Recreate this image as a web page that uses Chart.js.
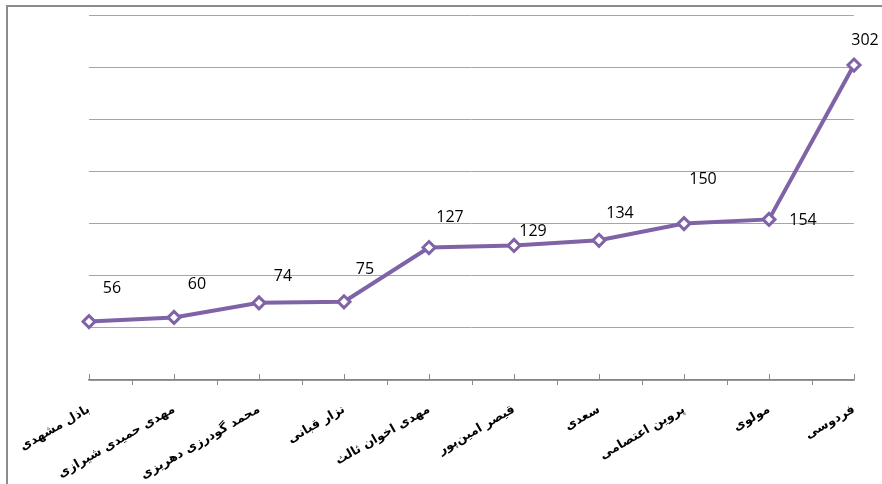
<!DOCTYPE html>
<html>
<head>
<meta charset="utf-8">
<script src="https://cdn.jsdelivr.net/npm/chart.js@4.4.0/dist/chart.umd.min.js"></script>
<style>
  html, body { margin: 0; padding: 0; background: #fff; }
  #wrap { position: relative; width: 882px; height: 484px; overflow: hidden; }
  #frame { position: absolute; left: 6px; top: 5px; width: 1000px; height: 600px; border: 2px solid #8c8c8c; }
  #chart { position: absolute; left: 0; top: 0; }
</style>
</head>
<body>
<div id="wrap">
  <div id="frame"></div>
  <canvas id="chart" width="882" height="484"></canvas>
</div>
<script>
// نام شاعران و تعداد
const poets = ["باذل مشهدی", "مهدی حمیدی شیرازی", "محمد گودرزی دهریزی", "نزار قبانی", "مهدی اخوان ثالث",
  "قیصر امین‌پور", "سعدی", "پروین اعتصامی", "مولوی", "فردوسی"];
const counts = [56, 60, 74, 75, 127, 129, 134, 150, 154, 302];

// جای برچسب عددی نسبت به نقطه (dx, dy)
const labelDx = [23, 23, 24, 21, 21, 19, 21, 19, 34, 11];
const labelDy = [-33, -33, -26, -32, -30, -14, -27, -44, 1, -25];

const purple = "#7f63a6";

// برچسب‌های عددی و خط‌های کوچک محور افقی
const extrasPlugin = {
  id: "extras",
  afterDatasetsDraw(chart) {
    const ctx = chart.ctx;
    const xScale = chart.scales.x;
    const yBottom = chart.chartArea.bottom;
    ctx.save();
    ctx.strokeStyle = "#8c8c8c";
    ctx.lineWidth = 1;
    for (let i = 0; i < poets.length; i++) {
      const px = Math.round(xScale.getPixelForValue(i)) + 0.5;
      ctx.beginPath();
      ctx.moveTo(px, yBottom - 6);
      ctx.lineTo(px, yBottom);
      ctx.stroke();
      if (i < poets.length - 1) {
        const mx = Math.round((xScale.getPixelForValue(i) + xScale.getPixelForValue(i + 1)) / 2) + 0.5;
        ctx.beginPath();
        ctx.moveTo(mx, yBottom);
        ctx.lineTo(mx, yBottom + 5);
        ctx.stroke();
      }
    }
    const meta = chart.getDatasetMeta(0);
    ctx.fillStyle = "#000";
    ctx.font = "16px 'Open Sans'";
    ctx.textAlign = "center";
    ctx.textBaseline = "middle";
    meta.data.forEach((pt, i) => {
      ctx.fillText(String(counts[i]), pt.x + labelDx[i], pt.y + labelDy[i]);
    });
    ctx.restore();
  }
};

new Chart(document.getElementById("chart"), {
  type: "line",
  data: {
    labels: poets,
    datasets: [{
      data: counts,
      borderColor: purple,
      borderWidth: 4,
      pointStyle: "rectRot",
      pointRadius: 6,
      pointBorderWidth: 3,
      pointBackgroundColor: "#fff",
      pointBorderColor: purple,
      tension: 0
    }]
  },
  options: {
    responsive: false,
    animation: false,
    layout: { padding: { left: 89, right: 28, top: 15, bottom: 0 } },
    plugins: { legend: { display: false }, tooltip: { enabled: false } },
    scales: {
      x: {
        grid: { display: false },
        border: { display: true, color: "#868686", width: 1.5 },
        ticks: {
          autoSkip: false,
          minRotation: 30,
          maxRotation: 30,
          padding: 14,
          color: "#000",
          font: { family: "'DejaVu Sans'", size: 12.5, weight: "bold" }
        },
        afterFit(scale) { scale.height = 104; }
      },
      y: {
        min: 0,
        max: 350,
        ticks: { display: false, stepSize: 50 },
        grid: { color: "#a6a6a6", lineWidth: 1, drawTicks: false },
        border: { display: false },
        afterFit(scale) { scale.width = 0; }
      }
    }
  },
  plugins: [extrasPlugin]
});
</script>
</body>
</html>
